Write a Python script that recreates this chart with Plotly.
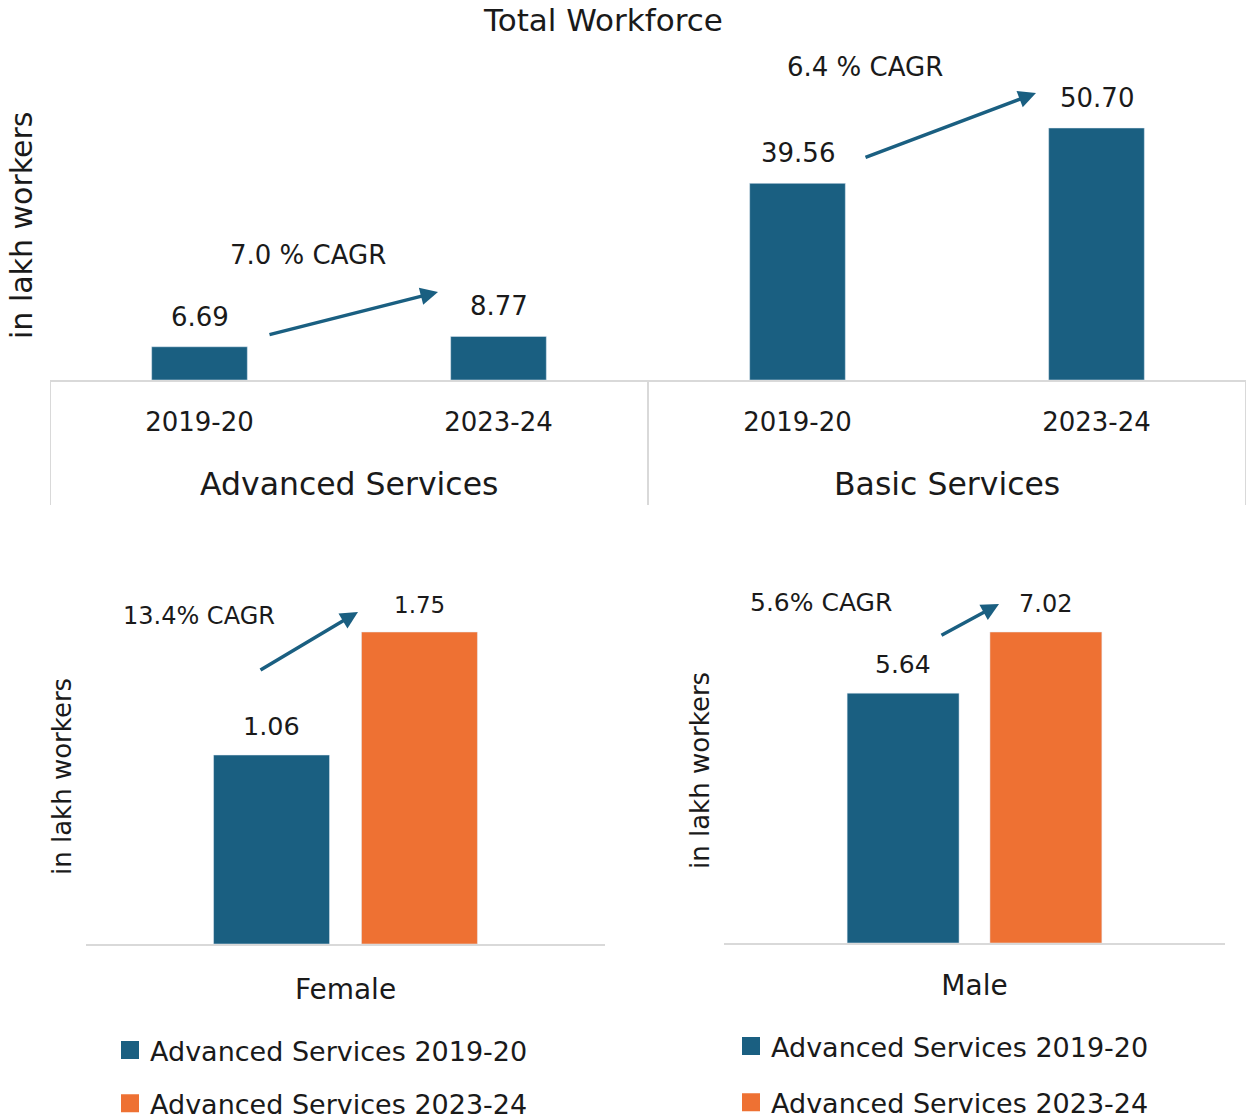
import plotly.graph_objects as go

# ---------------- data ----------------
groups = ["Advanced Services", "Advanced Services", "Basic Services", "Basic Services"]
years = ["2019-20", "2023-24", "2019-20", "2023-24"]
total_values = [6.69, 8.77, 39.56, 50.70]
total_labels = ["6.69", "8.77", "39.56", "50.70"]

gender_female = ["Female"]
gender_male = ["Male"]
female_2019 = [1.06]
female_2023 = [1.75]
male_2019 = [5.64]
male_2023 = [7.02]
series_names = ["Advanced Services 2019-20", "Advanced Services 2023-24"]

cagr_texts = ["7.0 % CAGR", "6.4 % CAGR", "13.4% CAGR", "5.6% CAGR"]

# ---------------- style ----------------
BLUE = "#1a5f81"
ORANGE = "#ee7133"
TXT = "#1a1a1a"
GRID = "#d9d9d9"
FONT = "DejaVu Sans"
W, H = 1246, 1120


def px(x):
    return x / W


def py(y):
    return 1 - y / H


BARGAP = 0.43
BARGROUPGAP = 0.216

fig = go.Figure()

# Top chart (positions by index on the x axis)
xpos = list(range(len(years)))
fig.add_trace(go.Bar(
    x=xpos, y=total_values, marker_color=BLUE, width=0.32,
    showlegend=False, xaxis="x", yaxis="y", hoverinfo="skip",
))

# Female chart
fig.add_trace(go.Bar(x=gender_female, y=female_2019, name=series_names[0], marker_color=BLUE,
                     xaxis="x2", yaxis="y2", showlegend=False))
fig.add_trace(go.Bar(x=gender_female, y=female_2023, name=series_names[1], marker_color=ORANGE,
                     xaxis="x2", yaxis="y2", showlegend=False))
# Male chart
fig.add_trace(go.Bar(x=gender_male, y=male_2019, name=series_names[0], marker_color=BLUE,
                     xaxis="x3", yaxis="y3", showlegend=False))
fig.add_trace(go.Bar(x=gender_male, y=male_2023, name=series_names[1], marker_color=ORANGE,
                     xaxis="x3", yaxis="y3", showlegend=False))

# legend entries (square swatches)
for lg, ax, ay in [("legend", "x2", "y2"), ("legend2", "x3", "y3")]:
    for k, (nm, col) in enumerate(zip(series_names, [BLUE, ORANGE])):
        fig.add_trace(go.Scatter(
            x=[None], y=[None], mode="markers", name=nm,
            marker=dict(symbol="square", size=16, color=col, line=dict(color=col, width=2)),
            xaxis=ax, yaxis=ay, legend=lg, legendgroup=f"{lg}_{k}", showlegend=True,
        ))

annotations = []
shapes = []

# value labels, top chart
for i, (v, t) in enumerate(zip(total_values, total_labels)):
    annotations.append(dict(x=i, y=v, xref="x", yref="y", text=t, showarrow=False,
                            yanchor="bottom", yshift=13, font=dict(size=26, color=TXT)))

# group labels + dividers, top chart
uniq = []
for g in groups:
    if g not in uniq:
        uniq.append(g)
for g in uniq:
    idx = [i for i, gg in enumerate(groups) if gg == g]
    annotations.append(dict(x=sum(idx) / len(idx), y=py(484), xref="x", yref="paper", text=g,
                            showarrow=False, xanchor="center", yanchor="middle",
                            font=dict(size=31.5, color=TXT)))
bounds = [-0.5]
for i in range(1, len(groups)):
    if groups[i] != groups[i - 1]:
        bounds.append(i - 0.5)
bounds.append(len(groups) - 0.5)
for b in bounds:
    shapes.append(dict(type="line", xref="x", yref="paper", x0=b, x1=b, y0=py(381), y1=py(505),
                       line=dict(color=GRID, width=2)))

# value labels, bottom charts
off = (1 - BARGAP) / 4
for axis, vals, sizes in [("2", [female_2019[0], female_2023[0]], [25.5, 23]),
                          ("3", [male_2019[0], male_2023[0]], [25, 24])]:
    for k, (v, s) in enumerate(zip(vals, sizes)):
        annotations.append(dict(x=(-off if k == 0 else off), y=v, xref="x" + axis, yref="y" + axis,
                                text=f"{v:.2f}", showarrow=False, yanchor="bottom", yshift=12,
                                font=dict(size=s, color=TXT)))

# title
annotations.append(dict(x=px(603), y=py(20), xref="paper", yref="paper", text="Total Workforce",
                        showarrow=False, xanchor="center", yanchor="middle",
                        font=dict(size=31, color=TXT)))

# y-axis titles
for (x0, y0, s) in [(22, 226, 30), (62, 777, 26), (700, 771, 26)]:
    annotations.append(dict(x=px(x0), y=py(y0), xref="paper", yref="paper", text="in lakh workers",
                            textangle=-90, showarrow=False, xanchor="center", yanchor="middle",
                            font=dict(size=s, color=TXT)))

# CAGR labels
for (t, x0, y0, s) in [(cagr_texts[0], 308, 255, 26), (cagr_texts[1], 865, 67, 26),
                       (cagr_texts[2], 199, 616, 24), (cagr_texts[3], 821, 602, 25)]:
    annotations.append(dict(x=px(x0), y=py(y0), xref="paper", yref="paper", text=t,
                            showarrow=False, xanchor="center", yanchor="middle",
                            font=dict(size=s, color=TXT)))

# arrows (tail -> head)
for (tx, ty, hx, hy) in [(268, 335, 438, 292), (864, 158, 1036, 93),
                         (259, 671, 358, 612), (940, 636, 999, 604)]:
    annotations.append(dict(x=px(hx), y=py(hy), xref="paper", yref="paper", ax=tx - hx, ay=ty - hy,
                            axref="pixel", ayref="pixel", text="", showarrow=True,
                            arrowhead=2, arrowsize=1, arrowwidth=3.5, arrowcolor=BLUE))

axis_common = dict(showgrid=False, zeroline=False, ticks="", fixedrange=True, automargin=False)

fig.update_layout(
    width=W, height=H,
    margin=dict(l=0, r=0, t=0, b=0, autoexpand=False),
    paper_bgcolor="white", plot_bgcolor="white",
    font=dict(family=FONT, color=TXT),
    barmode="group", bargap=BARGAP, bargroupgap=BARGROUPGAP,
    annotations=annotations, shapes=shapes,
    xaxis=dict(domain=[px(50), 1.0], anchor="y", range=[-0.5, len(years) - 0.5],
               tickmode="array", tickvals=xpos, ticktext=years, showline=True,
               linecolor=GRID, linewidth=2, tickfont=dict(size=26, color=TXT),
               ticklabelstandoff=18, **axis_common),
    yaxis=dict(domain=[py(380), py(40)], range=[0, 50.70 * 340 / 252], anchor="x",
               showticklabels=False, showline=False, **axis_common),
    xaxis2=dict(domain=[px(86), px(605)], anchor="y2", showline=True, linecolor=GRID, linewidth=2,
                tickfont=dict(size=28, color=TXT), ticklabelstandoff=19, **axis_common),
    yaxis2=dict(domain=[py(944), py(580)], range=[0, 1.75 * 364 / 312], anchor="x2",
                showticklabels=False, showline=False, **axis_common),
    xaxis3=dict(domain=[px(724), px(1225)], anchor="y3", showline=True, linecolor=GRID, linewidth=2,
                tickfont=dict(size=28, color=TXT), ticklabelstandoff=16, **axis_common),
    yaxis3=dict(domain=[py(943), py(580)], range=[0, 7.02 * 363 / 311], anchor="x3",
                showticklabels=False, showline=False, **axis_common),
    legend=dict(x=px(110), y=py(1026), xanchor="left", yanchor="top", orientation="v",
                font=dict(size=27, color=TXT), tracegroupgap=15, bgcolor="rgba(0,0,0,0)"),
    legend2=dict(x=px(731), y=py(1022), xanchor="left", yanchor="top", orientation="v",
                 font=dict(size=27, color=TXT), tracegroupgap=18, bgcolor="rgba(0,0,0,0)"),
)

fig.write_html(
    "out.html",
    config={"displayModeBar": False},
    post_script="document.body.style.margin='0';document.body.style.overflow='hidden';",
)
